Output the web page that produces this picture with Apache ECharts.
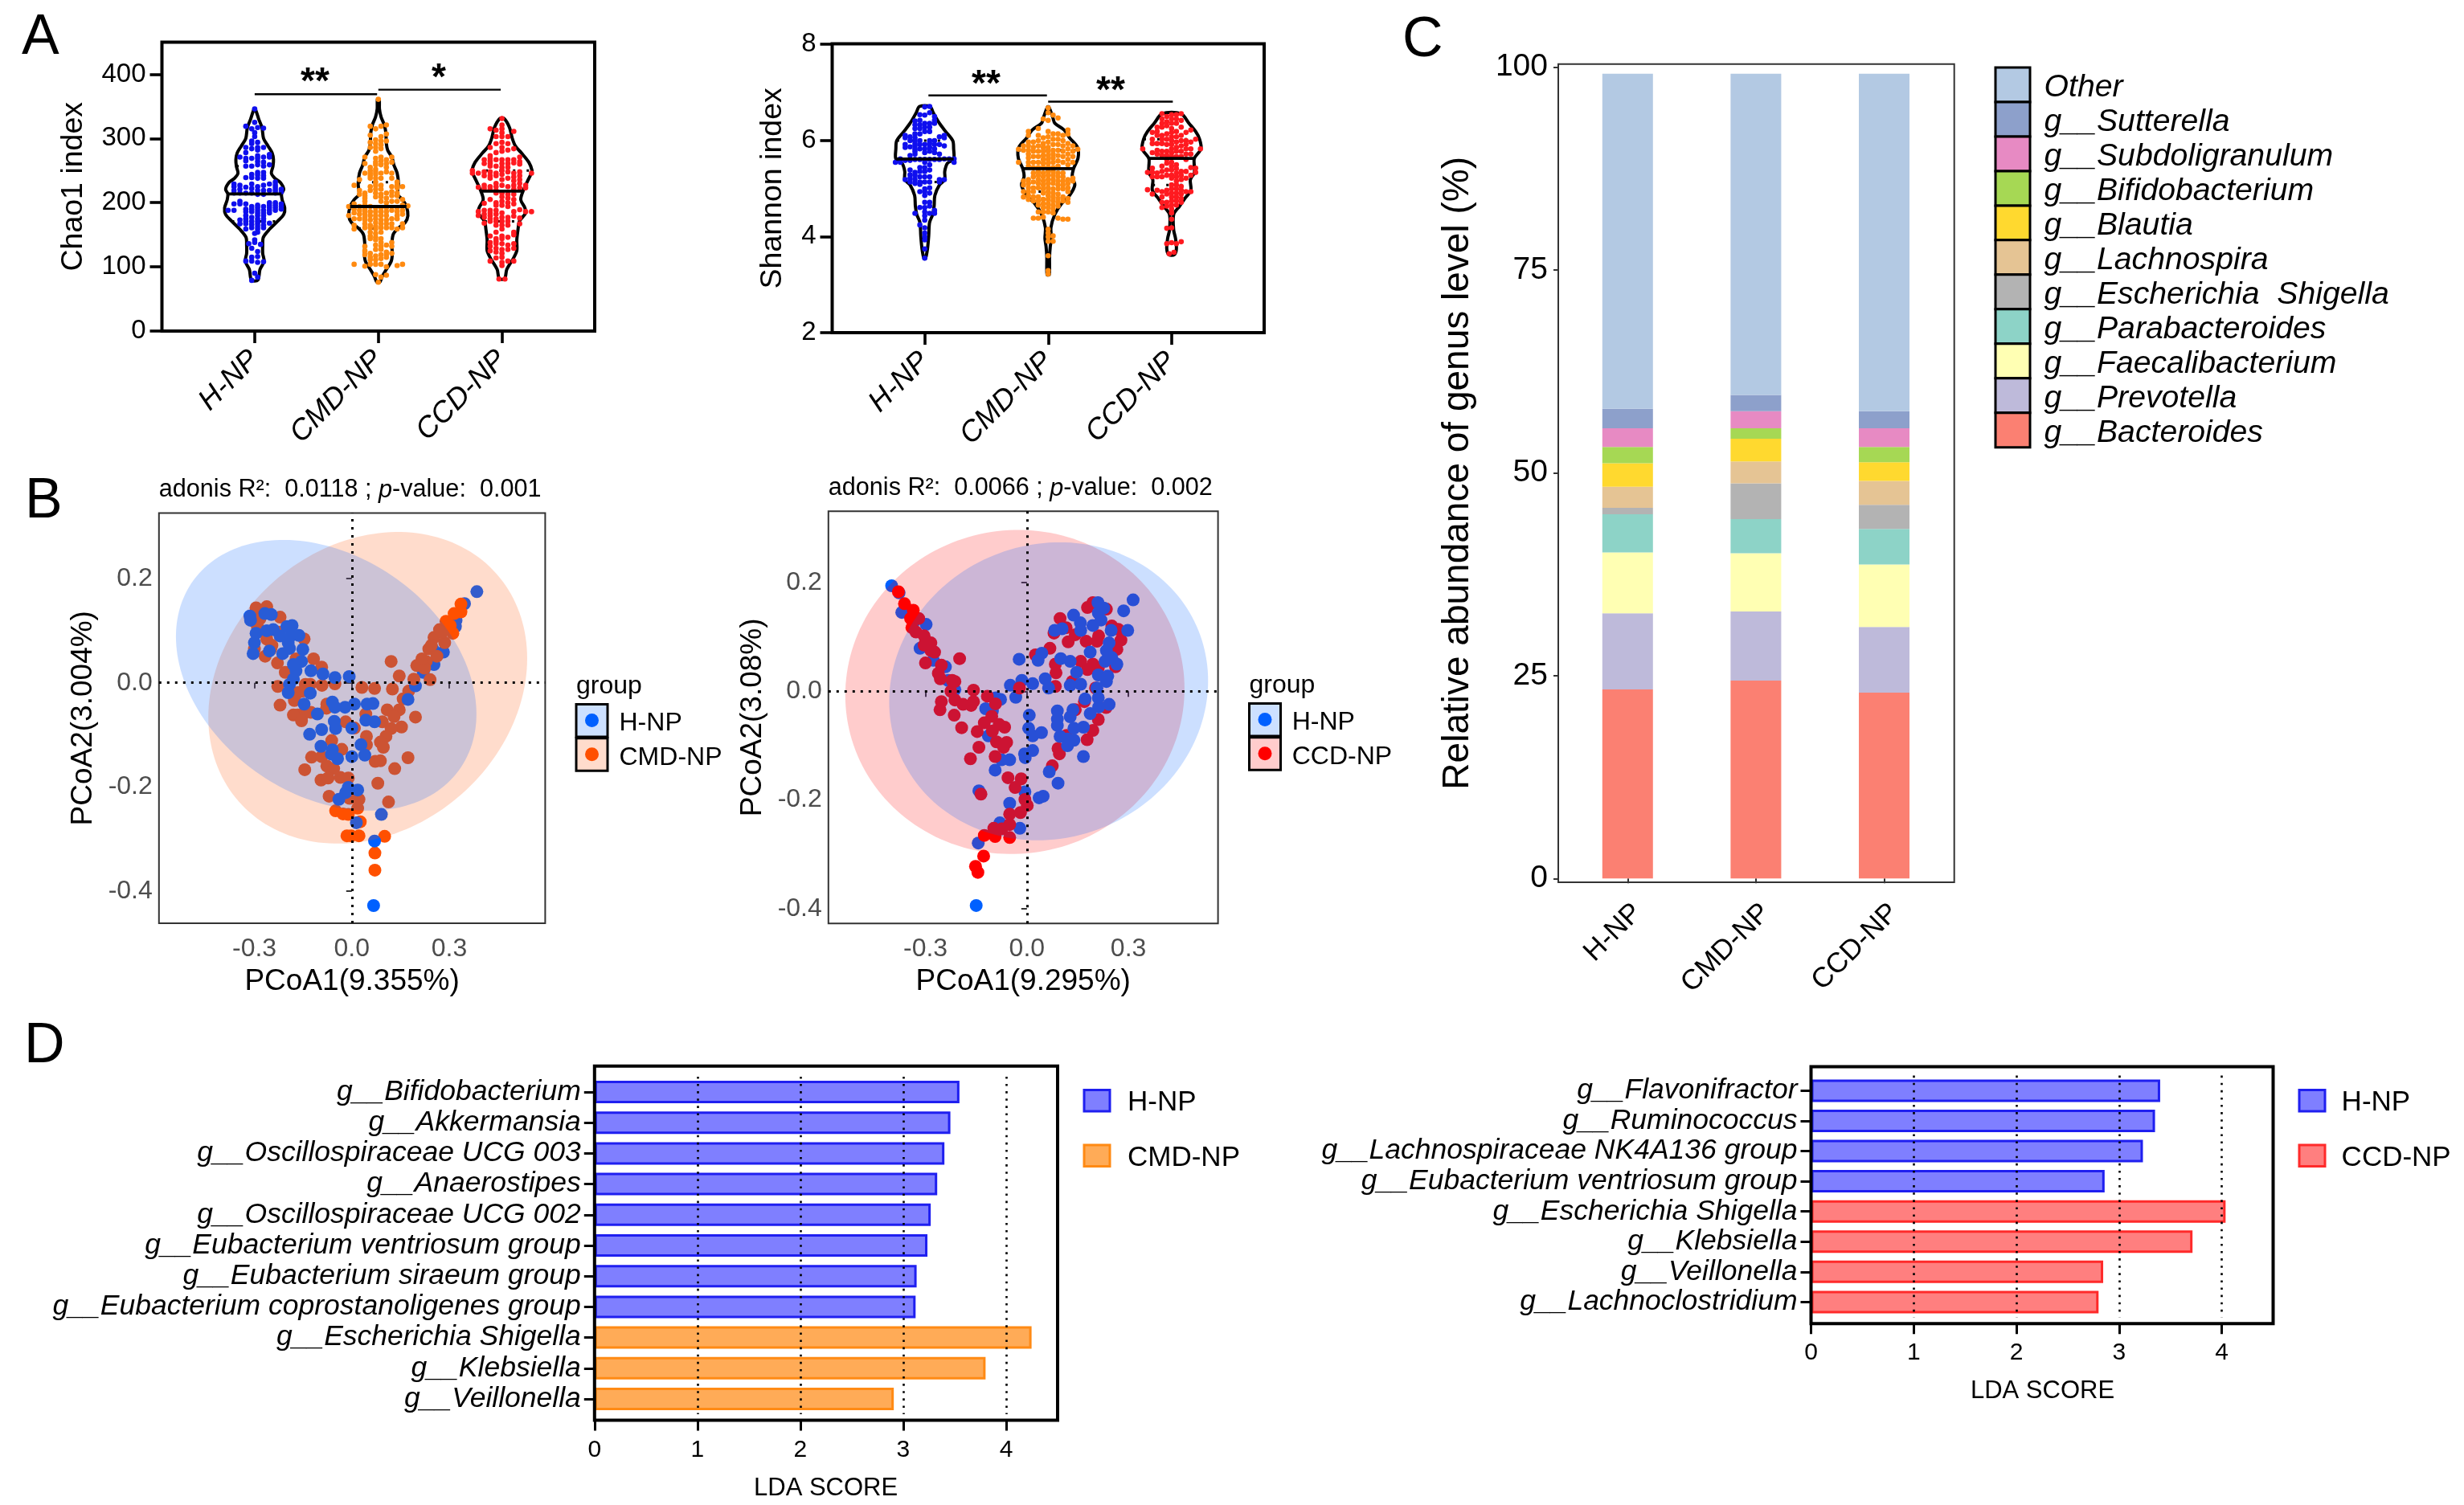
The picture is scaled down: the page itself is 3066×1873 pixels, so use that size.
<!DOCTYPE html>
<html><head><meta charset="utf-8">
<style>html,body{margin:0;padding:0;background:#fff}#c{width:3066px;height:1873px}</style>
<script src="https://cdn.jsdelivr.net/npm/echarts@6/dist/echarts.min.js"></script>
</head><body><div id="c"></div>
<script>
const FONT='Liberation Sans';
const groupNames=['H-NP','CMD-NP','CCD-NP'];
const cBlue='#0f0fee',cOrange='#ff8a10',cRed='#ff1a20';

/* ---------- Panel A : violin outlines [value, half width] ---------- */
const chaoHProfile=[[346,.005],[330,.033],[317,.059],[300,.072],[288,.109],[277.5,.141],[267,.152],[256.6,.148],[246,.135],[238,.163],[231.6,.207],[221,.235],[213.7,.217],[204.5,.222],[192,.243],[181.6,.235],[171,.185],[158.6,.120],[146,.070],[133.6,.065],[121,.065],[108.6,.076],[96,.043],[79.4,.026]];
const chaoMProfile=[[361,.007],[346.3,.009],[333.8,.022],[321.3,.048],[308.8,.061],[292,.065],[281.6,.076],[271.2,.109],[258.7,.126],[246.2,.152],[229.5,.163],[212.8,.157],[204.5,.196],[194,.228],[179.5,.239],[169,.217],[158.6,.152],[150.3,.120],[133.6,.109],[121,.113],[108.6,.104],[96,.065],[85.6,.033],[76,.011]];
const chaoCProfile=[[331,.017],[317,.061],[300.4,.083],[288,.109],[277.5,.157],[263,.217],[250.4,.243],[246.2,.239],[233.7,.207],[217.8,.170],[204.5,.152],[192,.185],[183.7,.191],[171,.141],[158.6,.130],[142,.120],[125.3,.120],[112.8,.091],[96,.039],[81.5,.022]];
const shanHProfile=[[6.70,.043],[6.57,.069],[6.35,.119],[6.18,.169],[5.99,.227],[5.82,.234],[5.61,.234],[5.52,.184],[5.35,.162],[5.18,.162],[5.07,.119],[4.85,.082],[4.63,.076],[4.46,.065],[4.29,.039],[4.01,.032],[3.74,.022],[3.54,.006]];
const shanMProfile=[[6.69,.006],[6.46,.039],[6.35,.054],[6.21,.130],[6.05,.173],[5.85,.238],[5.63,.242],[5.41,.206],[5.24,.195],[5.07,.216],[4.85,.173],[4.68,.108],[4.46,.054],[4.18,.022],[3.96,.026],[3.79,.017],[3.57,.011],[3.21,.009]];
const shanCProfile=[[6.55,.076],[6.35,.141],[6.18,.195],[6.02,.227],[5.82,.238],[5.62,.184],[5.46,.184],[5.32,.184],[5.18,.152],[4.96,.156],[4.79,.108],[4.63,.065],[4.46,.017],[4.13,.017],[3.96,.032],[3.74,.039],[3.62,.022]];

/* median, lower quartile, upper quartile */
const chaoStats=[[213.7,171,257],[194,160,232],[218,171,250]];
const shanStats=[[5.61,5.13,5.99],[5.41,4.93,5.79],[5.62,5.07,6.02]];

/* ---------- Panel A : dots, [swarm column, [values]] ---------- */
const chaoHDots=[[-4.5,[188]],[-3.5,[229,225,219,215,198,188]],[-2.5,[271,227,221,215,202,198,173,167]],[-1.5,[319,286,278,269,265,257,239,224,215,198,190,186,180,175,171,167,159,109]],[-1,[136]],[-.5,[315,296,292,284,269,257,244,239,229,222,215,194,190,186,177,171,166,161,129,115,109,79]],[0,[346,325,309,303,152,142,138,90]],[.5,[317,294,286,282,273,269,264,259,247,243,238,225,219,213,196,192,188,184,180,175,171,167,163,159,154,124,116,107,84]],[1,[135]],[1.5,[316,286,271,263,257,247,242,238,227,219,213,194,188,184,180,175,171,165,161,108]],[2.5,[275,271,259,229,219,200,196,192,188,184,168]],[3.5,[232,227,223,219,215,200,196,192,188]],[4.5,[221,217,198,194,190]]];
const chaoMDots=[[-5.5,[194,180]],[-4.5,[227,198,190,184,175,165,159,104]],[-3.5,[236,219,213,194,188,182,175]],[-2.5,[271,261,246,215,211,207,202,196,190,186,182,177,173,167,161,132,125,119,101]],[-1.5,[319,305,294,286,255,250,246,242,238,225,219,194,186,180,173,165,161,154,148,144,121,115,111,104]],[-.5,[315,298,292,286,280,269,263,259,252,248,244,238,232,227,221,215,209,192,186,180,175,169,163,159,152,146,142,134,127,117,111,104,88]],[0,[361,76]],[.5,[319,303,296,290,284,271,265,259,246,238,227,221,213,209,202,192,186,180,173,167,161,154,144,138,132,127,119,113,104,84]],[1.5,[321,307,296,267,261,255,248,215,207,200,192,186,180,173,167,161,134,123,119,115,100,87]],[2.5,[271,263,246,238,225,217,211,202,188,175,167,161,138,132,121]],[3.5,[232,227,223,215,211,202,192,186,180,175,159,102]],[4.5,[225,205,196,188,182,167,161,104]],[5.5,[195]]];
const chaoCDots=[[-5,[250,246]],[-4,[246,224,186,180]],[-3,[267,261,248,242,227,222,199,188,182,177,168]],[-2,[315,286,273,269,265,261,257,248,242,238,225,221,205,188,184,180,175,171,148,138,132,125,109]],[-1,[313,303,292,278,267,257,246,242,230,225,219,215,200,196,188,182,175,171,165,154,144,140,136,129,123,114]],[-.5,[81]],[0,[331,321,315,309,303,294,286,280,267,261,255,250,244,236,227,215,209,202,196,184,177,171,165,159,148,144,136,127,121,115,107,102]],[.5,[81]],[1,[303,292,282,267,261,255,248,238,225,213,207,200,194,177,171,165,146,134,127,109]],[2,[311,284,267,262,246,240,234,227,221,213,205,198,186,179,154,150,136,129,109]],[3,[271,264,260,248,242,236,230,223,189,176,167]],[4,[227,223,186]],[5,[246,186]]];
const shanHDots=[[-6,[5.54]],[-5,[5.61,5.54]],[-4,[6.10,6.05,5.91,5.85,5.58,5.18]],[-3,[6.07,5.99,5.86,5.68,5.58,5.38,5.28,5.21,5.13]],[-2,[6.40,6.32,6.24,6.13,6.05,5.99,5.93,5.88,5.82,5.77,5.71,5.60,5.33,5.27,5.18,5.10,4.48]],[-1,[6.53,6.41,6.32,6.24,6.13,5.99,5.91,5.82,5.60,5.43,5.35,5.24,5.13,5.08,4.93,4.60,4.24]],[0,[6.69,6.52,6.35,6.27,6.18,5.91,5.82,5.74,5.60,5.54,5.43,5.35,5.24,5.13,4.99,4.85,4.93,4.71,4.60,4.51,4.43,4.34,4.18,4.07,3.99,3.93,3.74,3.55]],[1,[6.70,6.57,6.35,6.27,6.18,5.99,5.93,5.85,5.77,5.60,5.49,5.38,5.24,5.13,5.01,4.90,4.71,4.63,4.48]],[2,[6.49,6.41,6.35,5.99,5.91,5.82,5.74,5.60,4.54,4.48]],[3,[6.07,5.91,5.71,5.60,5.18,5.13]],[4,[6.10,6.05,5.88,5.61,5.18]],[5,[5.61]],[6,[5.61,5.54]]];
const shanMDots=[[-6,[5.81,5.54]],[-5,[5.88,5.79,5.15,5.07,4.93,4.82]],[-4,[6.18,6.10,5.96,5.88,5.79,5.71,5.63,5.54,5.46,5.18,5.10,5.01,4.93,4.85,4.77]],[-3,[5.96,5.85,5.77,5.66,5.54,5.43,5.32,5.24,5.13,5.01,4.93,4.82,4.74,4.38]],[-2,[6.24,6.10,5.99,5.88,5.77,5.66,5.54,5.43,5.35,5.27,5.18,5.10,5.01,4.82,4.74,4.65,4.51,4.38]],[-1,[6.44,6.05,5.93,5.85,5.77,5.68,5.60,5.52,5.43,5.32,5.24,5.15,5.07,4.99,4.90,4.77,4.68,4.60,4.51,4.40]],[0,[6.67,6.57,6.41,6.18,6.07,5.96,5.85,5.77,5.68,5.60,5.52,5.43,5.35,5.27,5.18,5.10,5.01,4.93,4.85,4.77,4.68,4.60,4.51,4.15,4.07,3.99,3.90,3.60,3.29,3.22]],[1,[6.52,6.13,6.02,5.91,5.79,5.71,5.63,5.54,5.43,5.35,5.27,5.18,5.10,4.99,4.90,4.82,4.74,4.65,4.57,4.49,4.01,3.90]],[2,[6.46,6.13,6.02,5.91,5.79,5.68,5.57,5.46,5.32,5.24,5.15,5.07,4.99,4.88,4.79,4.71,4.63,4.38]],[3,[6.10,5.99,5.88,5.77,5.66,5.54,5.32,5.24,5.15,5.07,4.99,4.82,4.74,4.36]],[4,[6.21,6.13,5.93,5.82,5.71,5.60,5.49,5.18,5.10,5.01,4.93,4.79,4.71,4.36]],[5,[5.88,5.77,5.66,5.54,5.21,5.15]],[6,[5.81]]];
const shanCDots=[[-6,[5.82]],[-5,[5.33,4.97]],[-4,[6.16,6.02,5.93,5.74,5.42,5.33,5.24,4.88]],[-3,[6.27,6.18,6.10,5.93,5.79,5.71,5.32,5.24,4.96]],[-2,[6.55,6.44,6.35,6.27,6.10,6.02,5.93,5.77,5.68,5.46,5.35,5.24,4.93,4.82,4.71,4.60]],[-1,[6.49,6.38,6.30,6.13,6.02,5.91,5.77,5.68,5.60,5.52,5.38,5.27,4.96,4.88,4.71,4.63,4.17,3.85]],[-.5,[3.64]],[0,[6.53,6.44,6.35,6.24,6.16,6.07,5.99,5.91,5.82,5.74,5.66,5.54,5.46,5.38,5.27,5.21,5.07,4.99,4.90,4.82,4.74,4.65,4.57,4.49,4.36,4.18,3.87]],[.5,[3.67]],[1,[6.53,6.44,6.35,6.18,6.07,5.96,5.85,5.77,5.66,5.49,5.41,5.32,5.24,5.15,5.07,4.99,4.90,4.82,4.74,4.65,3.85]],[2,[6.55,6.41,6.27,6.10,5.99,5.88,5.77,5.66,5.35,5.27,5.18,5.04,4.96,4.88,4.79,4.71,3.89]],[3,[6.16,5.99,5.91,5.82,5.71,5.60,5.35,5.21,4.93]],[4,[6.21,5.96,5.82,5.71,5.43,5.27,4.93]],[5,[6.02,5.42,5.33]],[6,[5.82]]];

const chaoSig=[[[1,369],[1.99,369]],[[2,376],[2.99,376]]];
const shanSig=[[[1.03,6.93],[1.99,6.93]],[[2,6.80],[3.01,6.80]]];

/* ---------- Panel B : PCoA points ---------- */
const pcoaH1=[[-.314,.128],[-.312,.120],[-.268,.133],[-.248,.131],[-.295,.095],[-.300,.077],[-.304,.056],[-.254,.061],[-.262,.100],[-.242,.102],[-.221,.090],[-.200,.108],[-.184,.110],[-.188,.090],[-.163,.091],[-.196,.077],[-.151,.064],[-.213,.056],[-.192,.066],[-.155,.041],[-.180,.035],[-.172,.023],[-.126,.023],[-.089,.017],[-.052,.010],[-.008,.012],[-.180,.007],[-.192,-.003],[-.196,-.019],[-.128,-.020],[-.147,-.041],[-.106,-.060],[-.060,-.037],[-.052,-.047],[-.021,-.047],[.008,-.041],[.047,-.041],[.065,-.040],[-.054,-.074],[-.050,-.088],[-.093,-.090],[-.130,-.099],[0,-.087],[.043,-.072],[.070,-.075],[-.095,-.122],[-.060,-.129],[-.063,-.137],[-.044,-.146],[0,-.142],[.028,-.119],[.040,-.139],[-.011,-.201],[.018,-.206],[-.019,-.211],[-.040,-.224],[.014,-.269],[.091,-.253],[.070,-.304],[.067,-.428],[.385,.175],[.347,.152],[.321,.120],[.319,.108],[.282,.059],[.253,.035],[.220,.020],[.196,-.006],[.173,-.032],[.249,.065]];
const pcoaM1=[[-.295,.144],[-.262,.146],[-.221,.126],[-.291,.108],[-.262,.084],[-.250,.064],[-.300,.065],[-.267,.051],[-.229,.038],[-.205,.020],[-.147,.084],[-.172,.046],[-.118,.046],[-.093,.030],[-.128,-.003],[-.228,-.007],[-.092,-.005],[-.052,-.002],[.031,-.009],[.070,-.011],[.125,-.012],[-.221,-.043],[-.177,-.034],[-.167,-.019],[-.155,-.067],[-.167,-.062],[-.143,-.055],[-.077,-.041],[-.078,-.049],[-.019,-.075],[.008,-.087],[.043,-.060],[.094,-.075],[.109,-.052],[.146,-.052],[.130,-.065],[.196,-.066],[.153,-.085],[.121,-.088],[.105,-.103],[.088,-.114],[.097,-.124],[.045,-.103],[.045,-.119],[-.062,-.111],[-.031,-.128],[-.124,-.143],[-.145,-.167],[-.093,-.142],[-.077,-.160],[-.056,-.165],[.072,-.151],[.088,-.150],[.132,-.165],[.173,-.144],[-.095,-.187],[-.073,-.183],[-.035,-.182],[-.011,-.183],[.080,-.193],[-.070,-.218],[.113,-.229],[-.007,-.222],[.022,-.224],[.018,-.241],[.121,.041],[.146,.013],[.175,-.016],[.158,-.031],[.191,.007],[.241,.006],[.200,.033],[.229,.041],[.237,.065],[.253,.087],[.270,.102],[.290,.118],[.286,.077],[.262,.051],[.224,.028],[.311,.095],[.216,.046],[.245,.072],[.278,.097],[.303,.110],[-.283,.123],[-.225,.097],[-.246,.072],[-.184,.023],[-.143,-.003],[-.151,-.016],[-.180,-.062],[-.155,-.073],[-.126,-.057],[-.050,-.246],[-.027,-.252],[-.011,-.253],[.026,-.267],[-.002,-.294],[.022,-.294],[-.015,-.294],[.101,-.295],[.336,.151],[.336,.136],[.315,.133],[.071,-.327],[.071,-.360]];
const pcoaH2=[[-.400,.194],[-.378,.181],[-.360,.153],[-.370,.145],[-.336,.126],[-.298,.123],[-.316,.079],[-.277,.057],[-.241,.045],[-.233,.020],[-.213,.003],[-.092,-.012],[-.078,-.015],[-.122,-.032],[-.102,-.036],[-.114,-.082],[-.049,.011],[-.015,.020],[-.033,-.011],[.017,.014],[-.023,.059],[.033,.057],[.044,.070],[.054,.023],[.064,.006],[.007,-.044],[.005,-.068],[.017,-.082],[.043,-.076],[.017,-.109],[-.007,-.115],[-.005,-.122],[-.051,-.126],[-.075,-.126],[-.094,-.145],[-.142,-.183],[-.006,-.185],[.036,-.196],[.048,-.193],[-.051,-.206],[-.080,-.242],[-.021,-.252],[-.144,-.279],[.066,-.148],[.092,-.169],[.167,-.120],[.090,-.036],[.090,-.051],[.090,-.063],[.098,-.083],[.120,-.088],[.139,-.090],[.120,-.100],[.128,-.047],[.139,-.068],[.167,-.066],[.187,-.041],[.136,-.034],[.172,-.014],[.212,-.029],[.243,-.024],[.128,.011],[.159,.013],[.100,.060],[.128,.055],[.147,.035],[.211,.030],[.235,.018],[.239,.028],[.207,.006],[.211,-.012],[.266,.050],[.231,.055],[.187,.072],[.243,.089],[.235,.075],[.251,.062],[.286,.148],[.314,.168],[.298,.112],[.249,.112],[.159,.112],[.104,.115],[.082,.112],[.138,.140],[.158,.126],[.195,.121],[.219,.131],[.211,.144],[.210,.163],[.227,.153],[-.150,-.394]];
const pcoaC2=[[-.340,.117],[-.320,.134],[-.328,.109],[-.304,.102],[-.284,.089],[-.304,.085],[-.284,.075],[-.273,.072],[-.300,.052],[-.253,.048],[-.262,.033],[-.256,.023],[-.221,.020],[-.213,.018],[-.199,.060],[-.225,0],[-.158,.002],[-.117,-.009],[-.253,-.019],[-.257,-.034],[-.213,-.016],[-.189,-.024],[-.165,-.026],[-.158,-.019],[-.215,-.044],[-.193,-.067],[-.147,-.074],[-.126,-.058],[-.104,-.046],[-.082,-.061],[-.066,-.066],[-.102,-.073],[-.090,-.093],[-.060,-.094],[-.069,-.103],[-.142,-.103],[-.167,-.124],[-.094,-.120],[-.093,-.023],[-.022,.006],[.025,.067],[.068,.079],[.084,.050],[.086,.034],[.084,.009],[.134,.018],[.098,.134],[.116,.117],[.080,.107],[.122,.091],[.143,.104],[.175,.092],[.207,.092],[.179,.154],[.195,.163],[.235,.151],[.212,.102],[.251,.120],[.270,.114],[.278,.094],[.266,.077],[.159,.055],[.195,.050],[.179,.040],[.211,.043],[.262,.045],[.203,.006],[.170,-.019],[.143,-.034],[.234,-.030],[.211,-.052],[.195,-.072],[.178,-.089],[.117,-.081],[.092,-.105],[.096,-.115],[.075,-.137],[-.056,-.159],[-.017,-.161],[-.035,-.177],[-.136,-.189],[-.006,-.199],[.001,-.210],[-.019,-.223],[-.051,-.226],[-.051,-.245],[-.098,-.252],[-.074,-.253],[-.126,-.265],[-.094,-.267],[-.051,-.269],[-.128,-.303],[-.152,-.322],[-.145,-.333],[-.380,.183],[-.362,.161],[-.336,.149],[-.344,.134]];
/* ellipse: centre x, centre y, half x extent, half y extent, tilt */
const ellipseH1=[-.079,.0144,.4627,.26,-.29];
const ellipseM1=[.049,-.0097,.491,.2993,.19];
const ellipseH2=[.0642,0,.4715,.274,.07];
const ellipseC2=[-.0356,-.0013,.5015,.298,.02];

/* ---------- Panel C ---------- */
const genusOrder=['g__Bacteroides','g__Prevotella','g__Faecalibacterium','g__Parabacteroides','g__Escherichia  Shigella','g__Lachnospira','g__Blautia','g__Bifidobacterium','g__Subdoligranulum','g__Sutterella','Other'];
const genusColors=['#fb8072','#bebada','#ffffb3','#8dd3c7','#b3b3b3','#e5c494','#ffd92f','#a6d854','#e78ac3','#8da0cb','#b3c9e3'];
const bacteroides=[23.3,24.4,22.9];
const prevotella=[9.4,8.5,8.1];
const faecalibacterium=[7.5,7.2,7.7];
const parabacteroides=[4.7,4.2,4.4];
const escherichia=[.8,4.4,2.95];
const lachnospira=[2.6,2.7,2.95];
const blautia=[2.9,2.8,2.3];
const bifidobacterium=[2.0,1.3,1.9];
const subdoligranulum=[2.3,2.1,2.3];
const sutterella=[2.4,2.0,2.1];
const otherGenus=[41.3,39.6,41.6];
const genusValues=[bacteroides,prevotella,faecalibacterium,parabacteroides,escherichia,lachnospira,blautia,bifidobacterium,subdoligranulum,sutterella,otherGenus];

/* ---------- Panel D ---------- */
const lefse1Names=['g__Bifidobacterium','g__Akkermansia','g__Oscillospiraceae UCG 003','g__Anaerostipes','g__Oscillospiraceae UCG 002','g__Eubacterium ventriosum group','g__Eubacterium siraeum group','g__Eubacterium coprostanoligenes group','g__Escherichia Shigella','g__Klebsiella','g__Veillonella'];
const lefse1Values=[3.546,3.458,3.40,3.33,3.267,3.235,3.13,3.12,4.247,3.80,2.908];
const lefse1Groups=[0,0,0,0,0,0,0,0,1,1,1];
const lefse2Names=['g__Flavonifractor','g__Ruminococcus','g__Lachnospiraceae NK4A136 group','g__Eubacterium ventriosum group','g__Escherichia Shigella','g__Klebsiella','g__Veillonella','g__Lachnoclostridium'];
const lefse2Values=[3.40,3.35,3.232,2.859,4.037,3.715,2.845,2.80];
const lefse2Groups=[0,0,0,0,1,1,1,1];

/* ---------- helpers ---------- */
const grids=[],xAxes=[],yAxes=[],series=[],graphic=[];
const txt=(text,x,y,size,o={})=>graphic.push({type:'text',x,y,silent:true,z:50,style:Object.assign({text,font:`${o.style||'normal'} ${o.weight||'normal'} ${size}px "${FONT}"`,fill:o.fill||'#000',textAlign:o.align||'left',textVerticalAlign:'middle'},o.extra||{})});
const rect=(x,y,w,h,fill,stroke,lw,z=50)=>graphic.push({type:'rect',x,y,silent:true,z,shape:{x:0,y:0,width:w,height:h},style:{fill,stroke,lineWidth:lw}});

function addGrid(g,xa,ya){grids.push(Object.assign({containLabel:false},g));xAxes.push(Object.assign({gridIndex:grids.length-1},xa));yAxes.push(Object.assign({gridIndex:grids.length-1},ya));return grids.length-1;}
function hwAt(profile,v){for(let i=0;i<profile.length-1;i++){const a=profile[i],b=profile[i+1];if(v<=a[0]&&v>=b[0]){const t=(a[0]-v)/(a[0]-b[0]);return a[1]+(b[1]-a[1])*t;}}return 0;}

function violin(gi,cat,profile,stats,color,dots,step){
  const base={type:'custom',coordinateSystem:'cartesian2d',xAxisIndex:gi,yAxisIndex:gi,silent:true,clip:false,data:[[cat,stats[0]]],encode:{x:0,y:1}};
  series.push(Object.assign({},base,{z:2,renderItem:(p,api)=>{
    const L=profile.map(d=>api.coord([cat-d[1],d[0]]));
    const R=profile.map(d=>api.coord([cat+d[1],d[0]])).reverse();
    const ch=[{type:'polygon',shape:{points:L.concat(R),smooth:0.3},style:{fill:'none',stroke:'#000',lineWidth:4,lineJoin:'round'}}];
    [stats[1],stats[2]].forEach(v=>{const h=hwAt(profile,v),a=api.coord([cat-h,v]),b=api.coord([cat+h,v]);
      ch.push({type:'line',shape:{x1:a[0],y1:a[1],x2:b[0],y2:b[1]},style:{stroke:'#000',lineWidth:3,lineDash:[3,14]}});});
    return {type:'group',children:ch};
  }}));
  const pts=[];dots.forEach(c=>c[1].forEach(v=>pts.push([cat+c[0]*step,v])));
  series.push({type:'scatter',xAxisIndex:gi,yAxisIndex:gi,silent:true,z:3,symbolSize:6.6,itemStyle:{color,opacity:1},data:pts});
  series.push(Object.assign({},base,{z:4,renderItem:(p,api)=>{
    const v=stats[0],h=hwAt(profile,v),a=api.coord([cat-h,v]),b=api.coord([cat+h,v]);
    return {type:'line',shape:{x1:a[0],y1:a[1],x2:b[0],y2:b[1]},style:{stroke:'#000',lineWidth:3.8}};
  }}));
}
function violinAxes(name,min,max,ticks,gap){
  return [{type:'value',min:.25,max:3.75,splitLine:{show:false},axisLine:{show:false},
    axisTick:{show:true,customValues:[1,2,3],length:15,lineStyle:{color:'#000',width:3.6}},
    axisLabel:{show:true,customValues:[1,2,3],formatter:v=>groupNames[Math.round(v)-1],rotate:45,margin:30,padding:[18,0,0,0],fontFamily:FONT,fontStyle:'italic',fontSize:36.5,color:'#000'}},
   {type:'value',min,max,name,nameLocation:'middle',nameGap:gap,nameMoveOverlap:false,nameTextStyle:{fontFamily:FONT,fontSize:37.5,color:'#000'},splitLine:{show:false},axisLine:{show:false},
    axisTick:{show:true,customValues:ticks,length:15,lineStyle:{color:'#000',width:3.6}},
    axisLabel:{show:true,customValues:ticks,margin:20,fontFamily:FONT,fontSize:33,color:'#000'}}];
}
const sigLine=(gi,d)=>series.push({type:'line',xAxisIndex:gi,yAxisIndex:gi,silent:true,z:5,data:d,showSymbol:false,lineStyle:{color:'#000',width:2.4}});

/* Panel A */
{ let a=violinAxes('Chao1 index',0,450,[0,100,200,300,400],91);
  const g=addGrid({left:201.5,top:52.5,width:538.5,height:359.5,show:true,borderColor:'#000',borderWidth:4},a[0],a[1]);
  violin(g,1,chaoHProfile,chaoStats[0],cBlue,chaoHDots,.0478);
  violin(g,2,chaoMProfile,chaoStats[1],cOrange,chaoMDots,.0435);
  violin(g,3,chaoCProfile,chaoStats[2],cRed,chaoCDots,.0478);
  chaoSig.forEach(d=>sigLine(g,d));
  a=violinAxes('Shannon index',2,8,[2,4,6,8],55);
  const g2=addGrid({left:1035.5,top:54.6,width:537.5,height:359.5,show:true,borderColor:'#000',borderWidth:4},a[0],a[1]);
  violin(g2,1,shanHProfile,shanStats[0],cBlue,shanHDots,.0396);
  violin(g2,2,shanMProfile,shanStats[1],cOrange,shanMDots,.0400);
  violin(g2,3,shanCProfile,shanStats[2],cRed,shanCDots,.0390);
  shanSig.forEach(d=>sigLine(g2,d));
  [['**',392,103],['*',546,98],['**',1227,106],['**',1382,114]].forEach(s=>txt(s[0],s[1],s[2],46,{weight:'bold',align:'center'}));
}

/* Panel B */
function pcoa(gridCfg,xr,yr,xName,yName,nameGapY,under,mid,over,ellipseFirst,ellipseSecond,colA,colB,colMid){
  const tickStyle={show:true,length:7,lineStyle:{color:'#333',width:2}};
  const lab={show:true,fontFamily:FONT,fontSize:32,color:'#4d4d4d'};
  const g=addGrid(Object.assign({show:true,borderColor:'#333',borderWidth:2},gridCfg),
    {type:'value',min:xr[0],max:xr[1],name:xName,nameLocation:'middle',nameGap:54,nameMoveOverlap:false,nameTextStyle:{fontFamily:FONT,fontSize:37,color:'#000'},splitLine:{show:false},axisLine:{show:false},
     axisTick:Object.assign({customValues:[-.3,0,.3]},tickStyle),axisLabel:Object.assign({customValues:[-.3,0,.3],margin:16,formatter:v=>v.toFixed(1)},lab)},
    {type:'value',min:yr[0],max:yr[1],name:yName,nameLocation:'middle',nameGap:nameGapY,nameMoveOverlap:false,nameTextStyle:{fontFamily:FONT,fontSize:37,color:'#000'},splitLine:{show:false},axisLine:{show:false},
     axisTick:Object.assign({customValues:[-.4,-.2,0,.2]},tickStyle),axisLabel:Object.assign({customValues:[-.4,-.2,0,.2],margin:8,padding:[3,0,0,0],formatter:v=>v.toFixed(1)},lab)});
  const sc=(data,color,z)=>series.push({type:'scatter',xAxisIndex:g,yAxisIndex:g,silent:true,z,symbolSize:16,itemStyle:{color,opacity:1},data});
  sc(under,colA,1);sc(mid,colMid,1.2);sc(over,colA,1.4);
  const ell=(e,color,z)=>series.push({type:'custom',coordinateSystem:'cartesian2d',xAxisIndex:g,yAxisIndex:g,silent:true,z,data:[[e[0],e[1]]],encode:{x:0,y:1},
    renderItem:(p,api)=>{const pts=[];for(let i=0;i<180;i++){const t=i/180*Math.PI*2;pts.push(api.coord([e[0]+e[2]*Math.cos(t),e[1]+e[3]*Math.sin(t+e[4])]));}
      return {type:'polygon',shape:{points:pts},style:{fill:color,opacity:.2}};}});
  ell(ellipseFirst,colA,2);ell(ellipseSecond,colB,2.2);
  series.push({type:'scatter',xAxisIndex:g,yAxisIndex:g,silent:true,z:3,data:[],markLine:{silent:true,symbol:'none',label:{show:false},animation:false,lineStyle:{color:'#000',width:3,type:[3,7]},data:[{xAxis:0},{yAxis:0}]}});
}
pcoa({left:197.8,top:638.5,width:480.6,height:510.5},[-.594,.5955],[-.462,.326],'PCoA1(9.355%)','PCoA2(3.004%)',76,
  pcoaM1.filter(p=>p[0]<=.18),pcoaH1,pcoaM1.filter(p=>p[0]>.18),ellipseM1,ellipseH1,'#ff5000','#0060ff','#0060ff');
pcoa({left:1030.8,top:636.3,width:484.8,height:513},[-.587,.565],[-.427,.331],'PCoA1(9.295%)','PCoA2(3.08%)',76,
  pcoaC2.filter(p=>p[0]>=0),pcoaH2,pcoaC2.filter(p=>p[0]<0),ellipseC2,ellipseH2,'#ff0000','#0060ff','#0060ff');

const adonis=(x,y,r,p)=>graphic.push({type:'text',x,y,silent:true,z:50,style:{text:`{n|adonis R²:  ${r} ; }{i|p}{n|-value:  ${p}}`,textVerticalAlign:'middle',fill:'#000',rich:{n:{fontFamily:FONT,fontSize:30.6,fill:'#000'},i:{fontFamily:FONT,fontSize:30.6,fontStyle:'italic',fill:'#000'}}}});
adonis(197.8,610,'0.0118','0.001');
adonis(1030.8,608,'0.0066','0.002');

function bLegend(x,textX,dy,label,light,dark){
  txt('group',x,dy+2,32);
  [[0,'#cce0ff','#0060ff','H-NP'],[1,light,dark,label]].forEach(r=>{
    const top=dy+24.5+r[0]*42.3;
    rect(x,top,39,40.5,r[1],'#000',3);
    graphic.push({type:'circle',x:x+19.5,y:top+20,silent:true,z:51,shape:{cx:0,cy:0,r:8.5},style:{fill:r[2]}});
    txt(r[3],textX,top+24,32);
  });
}
bLegend(717,770.5,852,'CMD-NP','#ffdccc','#ff5000');
bLegend(1554.5,1607.7,851,'CCD-NP','#ffcccc','#ff0000');

/* Panel C */
{ const g=addGrid({left:1945.5,top:79.7,width:478.8,height:1018.3},
    {type:'category',data:groupNames,axisLine:{show:false},splitLine:{show:false},
     axisTick:{show:true,alignWithLabel:true,length:6,lineStyle:{color:'#333',width:2}},
     axisLabel:{show:true,interval:0,rotate:45,margin:20,verticalAlign:'top',fontFamily:FONT,fontSize:35,color:'#000'}},
    {type:'value',min:-.47,max:100.4,offset:6.5,name:'Relative abundance of genus level (%)',nameLocation:'middle',nameGap:102,nameMoveOverlap:false,nameTextStyle:{fontFamily:FONT,fontSize:46,color:'#000'},splitLine:{show:false},axisLine:{show:false},
     axisTick:{show:true,customValues:[0,25,50,75,100],length:6,lineStyle:{color:'#333',width:2}},
     axisLabel:{show:true,customValues:[0,25,50,75,100],margin:13,padding:[4,0,0,0],fontFamily:FONT,fontSize:39,color:'#000'}});
  genusOrder.forEach((n,i)=>series.push(Object.assign({type:'bar',name:n,xAxisIndex:g,yAxisIndex:g,stack:'genus',barWidth:63,silent:true,itemStyle:{color:genusColors[i]},data:genusValues[i]},i===0?{startValue:-.47}:{})));
  rect(1939,79.7,492.7,1018.3,'none','#333',2);
  [...genusOrder].reverse().forEach((n,i)=>{
    const top=84+i*42.97;
    rect(2483,top,43,42.97,genusColors[genusColors.length-1-i],'#000',3);
    txt(n,2543.6,top+25,39.2,{style:'italic'});
  });
}

/* Panel D */
function lefse(cfg,names,values,groups,altFill,altStroke,altName,frame,legendX,textX,scoreX,scoreY){
  const g=addGrid(cfg,
    {type:'value',min:0,max:4.5,offset:frame.bottomGap,splitLine:{show:false},axisLine:{show:false},
     axisTick:{show:true,customValues:[0,1,2,3,4],length:13,lineStyle:{color:'#000',width:3}},
     axisLabel:{show:true,customValues:[0,1,2,3,4],margin:22,fontFamily:FONT,fontSize:30,color:'#000'}},
    {type:'category',inverse:true,data:names,axisLine:{show:false},splitLine:{show:false},
     axisTick:{show:true,alignWithLabel:true,length:13,lineStyle:{color:'#000',width:3}},
     axisLabel:{show:true,interval:0,margin:17,fontFamily:FONT,fontStyle:'italic',fontSize:35.5,color:'#000'}});
  series.push({type:'bar',xAxisIndex:g,yAxisIndex:g,silent:true,barWidth:28,z:2,
    data:values.map((v,i)=>({value:v,itemStyle:groups[i]===0?{color:'rgba(0,0,255,.5)',borderColor:'#1f1ff0',borderWidth:3}:{color:altFill,borderColor:altStroke,borderWidth:3}})),
    markLine:{silent:true,symbol:'none',animation:false,label:{show:false},lineStyle:{color:'#000',width:2.6,type:[2.6,6.5]},data:[{xAxis:1},{xAxis:2},{xAxis:3},{xAxis:4}]}});
  rect(frame.x,frame.y,frame.w,frame.h,'none','#000',4);
  [[1356.5,'rgba(0,0,255,.5)','#1f1ff0','H-NP'],[1425,altFill,altStroke,altName]].forEach(r=>{
    rect(legendX,r[0],32,26.5,r[1],r[2],3);
    txt(r[3],textX,r[0]+16,35);
  });
  txt('LDA SCORE',scoreX,scoreY,31,{align:'center'});
}
lefse({left:739.8,top:1339.9,width:576.2,height:420.2},lefse1Names,lefse1Values,lefse1Groups,'rgba(255,136,16,.7)','#ff8a14','CMD-NP',{x:739.8,y:1326.7,w:576.2,h:440.9,bottomGap:7.5},1349,1403,1027.6,1852);
lefse({left:2253.5,top:1338.6,width:575,height:300.6},lefse2Names,lefse2Values,lefse2Groups,'rgba(255,0,0,.5)','#ff2a2a','CCD-NP',{x:2253.5,y:1327.5,w:575,h:319.7,bottomGap:8},2861,2913.6,2541.5,1731);

/* panel letters */
[['A',27,48],['B',31,625],['C',1745,51],['D',30,1303]].forEach(l=>txt(l[0],l[1],l[2],70));

const chart=echarts.init(document.getElementById('c'),null,{renderer:'canvas'});
chart.setOption({animation:false,backgroundColor:'#fff',grid:grids,xAxis:xAxes,yAxis:yAxes,series,graphic:{elements:graphic}});
</script></body></html>
